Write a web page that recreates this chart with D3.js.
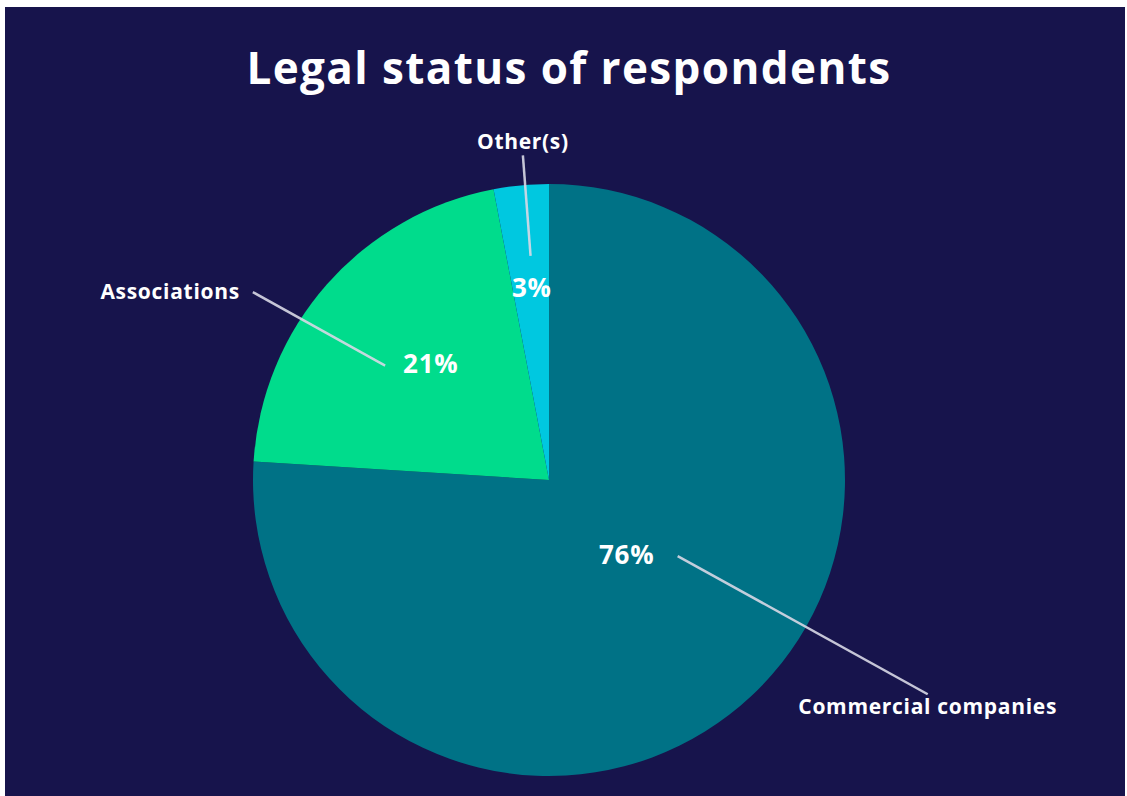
<!DOCTYPE html>
<html>
<head>
<meta charset="utf-8">
<script src="https://cdn.jsdelivr.net/npm/d3@7/dist/d3.min.js"></script>
<style>
  html, body { margin: 0; padding: 0; background: #ffffff; }
  svg { display: block; }
  text { font-family: "Open Sans", Lato, sans-serif; font-weight: 700; fill: #ffffff; }
</style>
</head>
<body>
<svg id="chart" width="1127" height="796"></svg>
<script>
// Survey data: legal status of respondents (share in %)
const categories = ["Commercial companies", "Associations", "Other(s)"];
const shares = [76, 21, 3];
const sliceColors = ["#007286", "#00dc8c", "#00c8e0"];
const titleText = "Legal status of respondents";

// Layout of the annotation for each slice (angles in degrees clockwise from 12 o'clock,
// radii as multiples of the pie radius)
const annotationLayout = [
  { pctAngle: 134, pctR: 0.365, lineA: [120.6, 0.505], lineB: [119.5, 1.47], anchor: "below" },
  { pctAngle: 314.5, pctR: 0.56, lineA: [304.9, 0.675], lineB: [302.4, 1.185], anchor: "left" },
  { pctAngle: 354.9, pctR: 0.653, lineA: [355.3, 0.76], lineB: [355.4, 1.10], anchor: "above" }
];

const W = 1127, H = 796;
const cx = 549, cy = 480, radius = 296;

const svg = d3.select("#chart");

// Navy panel
svg.append("rect")
  .attr("x", 5).attr("y", 7)
  .attr("width", W - 7).attr("height", H - 7)
  .attr("fill", "#17144c");

// Title
svg.append("text")
  .attr("x", 569).attr("y", 84)
  .attr("text-anchor", "middle")
  .style("font-size", "44px")
  .style("letter-spacing", "1.4px")
  .text(titleText);

const data = categories.map((c, i) => ({ category: c, value: shares[i], color: sliceColors[i], layout: annotationLayout[i] }));

const pie = d3.pie().sort(null).value(d => d.value);
const arc = d3.arc().innerRadius(0).outerRadius(radius);
const arcs = pie(data);

const g = svg.append("g").attr("transform", `translate(${cx},${cy})`);

g.selectAll("path.slice")
  .data(arcs)
  .join("path")
  .attr("class", "slice")
  .attr("d", arc)
  .attr("fill", d => d.data.color);

// polar helper: degrees clockwise from top, radius factor
const toRad = Math.PI / 180;
const polar = (deg, f) => [Math.sin(deg * toRad) * f * radius, -Math.cos(deg * toRad) * f * radius];

// Leader lines
g.selectAll("line.leader")
  .data(arcs)
  .join("line")
  .attr("class", "leader")
  .each(function (d) {
    const a = polar(...d.data.layout.lineA);
    const b = polar(...d.data.layout.lineB);
    d3.select(this)
      .attr("x1", a[0]).attr("y1", a[1])
      .attr("x2", b[0]).attr("y2", b[1]);
  })
  .attr("stroke", "#d8d8e6")
  .attr("stroke-opacity", 0.9)
  .attr("stroke-width", 2.5);

// Percentage labels
const pctFmt = v => `${v}%`;
g.selectAll("text.pct")
  .data(arcs)
  .join("text")
  .attr("class", "pct")
  .attr("text-anchor", "middle")
  .attr("dy", "0.36em")
  .style("font-size", "26px")
  .style("letter-spacing", "0.8px")
  .attr("x", d => polar(d.data.layout.pctAngle, d.data.layout.pctR)[0])
  .attr("y", d => polar(d.data.layout.pctAngle, d.data.layout.pctR)[1])
  .text(d => pctFmt(d.data.value));

// Category labels at the outer end of each leader
g.selectAll("text.cat")
  .data(arcs)
  .join("text")
  .attr("class", "cat")
  .style("font-size", "21px")
  .style("letter-spacing", "0.7px")
  .each(function (d) {
    const [x, y] = polar(...d.data.layout.lineB);
    const t = d3.select(this);
    if (d.data.layout.anchor === "left") {
      t.attr("text-anchor", "end").attr("x", x - 13).attr("y", y).attr("dy", "0.34em");
    } else if (d.data.layout.anchor === "above") {
      t.attr("text-anchor", "middle").attr("x", x).attr("y", y - 6);
    } else {
      t.attr("text-anchor", "middle").attr("x", x).attr("y", y + 20);
    }
  })
  .text(d => d.data.category);
</script>
</body>
</html>
